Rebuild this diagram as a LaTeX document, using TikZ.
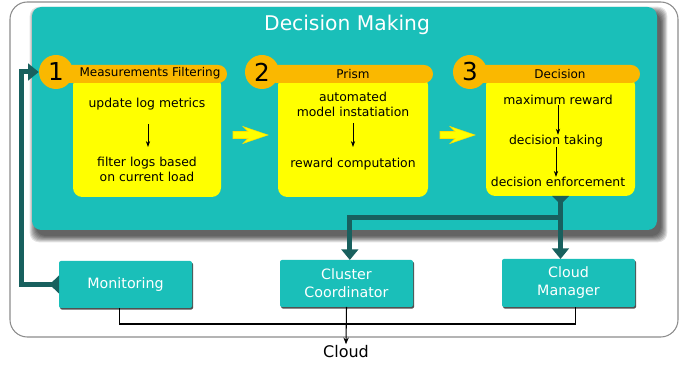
\documentclass[tikz,border=0pt]{standalone}
\usepackage{fontspec}
\setmainfont{DejaVu Sans}
\usetikzlibrary{arrows.meta,shadows,fit}
\definecolor{tealbox}{RGB}{26,191,185}
\definecolor{darkteal}{RGB}{24,96,94}
\definecolor{gold}{RGB}{250,184,0}
\definecolor{yel}{RGB}{255,255,0}
\definecolor{framegray}{RGB}{140,140,140}
\begin{document}
\begin{tikzpicture}[x=0.75pt,y=-0.75pt,
  fitbox/.style={inner sep=0pt, outer sep=0pt},
  yelbox/.style={fitbox, fill=yel, rounded corners=7pt},
  header/.style={fitbox, fill=gold, rounded corners=6.7pt},
  numcirc/.style={circle, fill=gold, minimum size=25.5pt, inner sep=0pt, font=\fontsize{18.5}{20}\selectfont},
  headtxt/.style={font=\fontsize{9}{11}\selectfont},
  bodytxt/.style={font=\fontsize{9.3}{11.4}\selectfont, align=center, inner sep=0pt},
  smallarr/.style={-{Stealth[length=4.5pt,width=3.2pt]}, line width=0.6pt},
  botbox/.style={fitbox, fill=tealbox, rounded corners=1.5pt, drop shadow={shadow xshift=0.8pt, shadow yshift=-1.2pt, opacity=0.85, fill=black!80}},
  bottxt/.style={text=white, font=\fontsize{10.7}{13.5}\selectfont, align=center, inner sep=0pt},
  bigarr/.style={draw=darkteal, line width=3.75pt},
  bigtip/.style={-{Triangle[length=8pt,width=12.5pt]}},
  yarrow/.style={fill=yel, draw=yel!75!orange, line width=0.4pt}
]
\useasboundingbox (0,0) rectangle (693,366);

% outer frame
\node[fitbox, fit={(10,2)(678,337)}, draw=framegray, line width=0.8pt, rounded corners=13pt] (frame) {};

% soft shadow of decision making box
\foreach \k in {0,1,...,7}{
  \fill[black, opacity=0.11, rounded corners=7pt]
    ({32+4-\k*0.9},{7+6-\k*0.9}) rectangle ({657+4+\k*0.9},{230+6+\k*0.9});
}
% decision making box
\node[fitbox, fit={(32,7)(657,230)}, fill=tealbox, rounded corners=7pt] (dm) {};
\node[text=white, font=\fontsize{15.2}{18}\selectfont] (title) at (347,25) {Decision Making};

% step 1
\node[yelbox, fit={(73,76)(221,197)}] (y1) {};
\node[header, fit={(60,65)(227,83)}] (h1) {};
\node[numcirc] (c1) at (56,72) {1};
\node[headtxt] (h1t) at (150,73) {Measurements Filtering};
\node[bodytxt] (t11) at (147,104) {update log metrics};
\node[bodytxt] (t12) at (147,169) {filter logs based\\on current load};
\draw[smallarr] (148,124) coordinate (a1s) -- (148,147) coordinate (a1e);

% step 2
\node[yelbox, fit={(278,76)(428,197)}] (y2) {};
\node[header, fit={(268,65)(433,83)}] (h2) {};
\node[numcirc] (c2) at (262,72) {2};
\node[headtxt] (h2t) at (353,74) {Prism};
\node[bodytxt] (t21) at (353,104.5) {automated\\model instatiation};
\node[bodytxt] (t22) at (353,164) {reward computation};
\draw[smallarr] (353,123) -- (353,147);

% step 3
\node[yelbox, fit={(486,76)(635,196)}] (y3) {};
\node[header, fit={(474,65)(640,83)}] (h3) {};
\node[numcirc] (c3) at (470,72) {3};
\node[headtxt] (h3t) at (560,74) {Decision};
\node[bodytxt] (t31) at (558,100) {maximum reward};
\node[bodytxt] (t32) at (556,141) {decision taking};
\node[bodytxt] (t33) at (558,182) {decision enforcement};
\draw[smallarr] (t31) -- (t31 |- t32.north);
\draw[smallarr] (t32) -- (t32 |- t33.north);

% yellow fat arrows
\coordinate (ya1) at (233,135);
\coordinate (ya2) at (440,135);
\foreach \c in {ya1,ya2}{
  \filldraw[yarrow] (\c) ++(0,-3.5) -- ++(15,0) -- ++(-5,-5) -- ++(25,8.5) -- ++(-25,8.5) -- ++(5,-5) -- ++(-15,0) -- cycle;
}

% bottom boxes
\node[botbox, fit={(59,261)(192,308)}] (mon) {};
\node[bottxt] at (mon) {Monitoring};
\node[botbox, fit={(280,260)(413,307)}] (cc) {};
\node[bottxt] at (cc) {Cluster\\Coordinator};
\node[botbox, fit={(502,259)(635,307)}] (cm) {};
\node[bottxt] at (cm) {Cloud\\Manager};

% feedback arrow monitoring -> step 1
\coordinate (lc) at (21,72);
\draw[bigarr, bigtip] (mon.west) -| (lc) -- (c1.west);
\fill[darkteal] (mon.west) ++(0,-9) -- ++(-9.5,9) -- ++(9.5,9) -- cycle;

% decision -> coordinator / manager
\coordinate (br) at (560.5,218);
\draw[bigarr, bigtip] (y3.south) -- (y3.south |- cm.north);
\draw[bigarr, bigtip] (br) -| ([xshift=2.5pt]cc.north);
\fill[darkteal] (y3.south) ++(-8.5,0) -- ++(17,0) -- ++(-8.5,8.5) -- cycle;

% bus to cloud
\node[font=\fontsize{12}{14}\selectfont, inner sep=1pt] (cloud) at (346,352) {Cloud};
\coordinate (bus) at (346,324);
\draw[line width=0.8pt] ([xshift=-4.5pt]mon.south) |- (bus) -| ([xshift=5.5pt]cm.south);
\draw[line width=0.8pt, -{Stealth[length=5pt,width=4pt]}] (cc.south) -- (cloud.north);
\end{tikzpicture}
\end{document}
